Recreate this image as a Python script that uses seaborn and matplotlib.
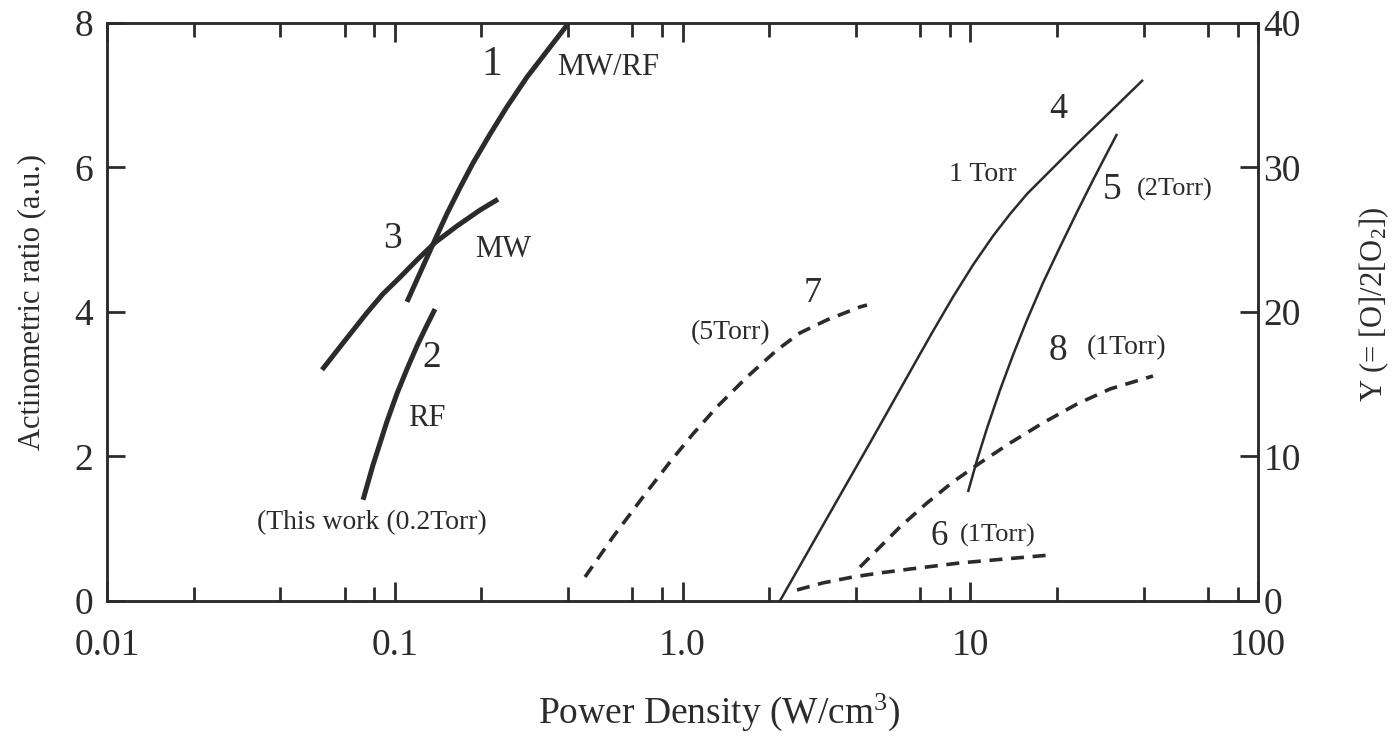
import numpy as np
import pandas as pd
import matplotlib
matplotlib.use("Agg")
import matplotlib.pyplot as plt
import seaborn as sns
from matplotlib.ticker import FixedLocator, NullFormatter

# ---------------- data ----------------
# left axis: Actinometric ratio (a.u.)
c1_x = [0.1103, 0.1224, 0.1380, 0.1519, 0.1686, 0.1870, 0.2143, 0.2455, 0.288, 0.338, 0.397]
c1_y = [4.14, 4.54, 5.00, 5.36, 5.72, 6.06, 6.46, 6.84, 7.25, 7.61, 7.97]
c2_x = [0.0776, 0.0840, 0.0939, 0.1018, 0.1103, 0.1195, 0.1284, 0.1380]
c2_y = [1.40, 1.88, 2.48, 2.87, 3.21, 3.53, 3.79, 4.04]
c3_x = [0.0559, 0.0661, 0.0801, 0.0910, 0.1043, 0.1195, 0.1380, 0.1646, 0.1978, 0.2285]
c3_y = [3.20, 3.57, 3.99, 4.25, 4.48, 4.72, 4.96, 5.19, 5.41, 5.56]
# right axis: Y (= [O]/2[O2])
c4_x = [2.18, 3.18, 4.48, 6.28, 7.43, 8.71, 10.22, 12.00, 13.75, 15.75, 18.93, 23.50, 30.60, 39.84]
c4_y = [0.0, 5.74, 10.93, 16.12, 18.69, 21.04, 23.25, 25.26, 26.78, 28.17, 29.76, 31.63, 33.84, 36.06]
c5_x = [9.82, 10.56, 11.44, 12.69, 14.08, 15.75, 17.89, 20.51, 23.50, 26.71, 29.88, 32.36]
c5_y = [7.54, 9.76, 11.97, 14.60, 17.02, 19.45, 22.01, 24.50, 26.92, 29.13, 31.00, 32.32]
c6_x = [2.500, 3.077, 3.914, 4.859, 6.175, 9.213, 18.93]
c6_y = [0.76, 1.25, 1.66, 1.94, 2.21, 2.63, 3.18]
c7_x = [0.4584, 0.5735, 0.7290, 0.9049, 1.0876, 1.318, 1.676, 2.130, 2.561, 3.178, 4.140, 4.377]
c7_y = [1.66, 4.43, 7.20, 9.62, 11.56, 13.43, 15.50, 17.37, 18.55, 19.45, 20.35, 20.48]
c8_x = [4.140, 4.742, 5.700, 7.074, 8.710, 10.81, 13.75, 17.89, 23.50, 30.60, 43.16]
c8_y = [2.35, 3.53, 5.12, 6.78, 8.24, 9.55, 10.93, 12.32, 13.63, 14.67, 15.57]

x_ticks = [0.01, 0.1, 1.0, 10, 100]
x_tick_labels = ["0.01", "0.1", "1.0", "10", "100"]
left_ticks = [0, 2, 4, 6, 8]
right_ticks = [0, 10, 20, 30, 40]

# ---------------- style ----------------
sns.set_style("ticks")
plt.rcParams["font.family"] = ["Liberation Serif", "DejaVu Serif"]
plt.rcParams["mathtext.fontset"] = "custom"
plt.rcParams["mathtext.rm"] = "Liberation Serif"
plt.rcParams["mathtext.it"] = "Liberation Serif:italic"

INK = "#2b2b2b"

fig = plt.figure(figsize=(13.93, 7.41), dpi=100)
ax = fig.add_axes([0.0768, 0.189, 0.8263, 0.780])
ax2 = ax.twinx()

def draw(a, xs, ys, lw, dashed=False):
    df = pd.DataFrame({"x": xs, "y": ys})
    kw = dict(color=INK, linewidth=lw, solid_capstyle="butt", solid_joinstyle="round")
    if dashed:
        kw["linestyle"] = (0, (3.6, 2.4))
        kw["dash_capstyle"] = "butt"
    sns.lineplot(data=df, x="x", y="y", ax=a, estimator=None, sort=True, **kw)

draw(ax, c1_x, c1_y, 3.6)
draw(ax, c2_x, c2_y, 3.6)
draw(ax, c3_x, c3_y, 3.6)
draw(ax2, c4_x, c4_y, 1.8)
draw(ax2, c5_x, c5_y, 1.8)
draw(ax2, c6_x, c6_y, 2.6, dashed=True)
draw(ax2, c7_x, c7_y, 2.6, dashed=True)
draw(ax2, c8_x, c8_y, 2.6, dashed=True)

for a in (ax, ax2):
    a.set_xscale("log")
    a.set_xlim(0.01, 100)
    a.set_xlabel("")
    a.set_ylabel("")
    for s in a.spines.values():
        s.set_linewidth(1.8)
        s.set_color(INK)
ax.set_ylim(0, 8)
ax2.set_ylim(0, 40)

ax.xaxis.set_major_locator(FixedLocator(x_ticks))
ax.set_xticklabels(x_tick_labels)
minor = [d * m for d in [0.01, 0.1, 1, 10] for m in (2, 4, 6.7, 8.5)]
ax.xaxis.set_minor_locator(FixedLocator(minor))
ax.xaxis.set_minor_formatter(NullFormatter())
ax.set_yticks(left_ticks)
ax2.set_yticks(right_ticks)

ax.tick_params(axis="x", which="major", direction="in", length=14, width=2,
               top=True, bottom=True, labelsize=27, pad=20, colors=INK)
ax.tick_params(axis="x", which="minor", direction="in", length=10, width=2,
               top=True, bottom=True, colors=INK)
ax.tick_params(axis="y", which="major", direction="in", length=13, width=2,
               left=True, right=False, labelsize=27, pad=10, colors=INK)
ax2.tick_params(axis="y", which="major", direction="in", length=13, width=2,
                right=True, labelsize=27, pad=4, colors=INK)
ax2.tick_params(axis="x", which="both", bottom=False, top=False)

fig.text(719 / 1393, 1 - 712 / 741, "Power Density (W/cm$^3$)", fontsize=27,
         color=INK, ha="center", va="center")
fig.text(32 / 1393, 1 - 302 / 741, "Actinometric ratio (a.u.)", fontsize=22,
         color=INK, ha="center", va="center", rotation=90)
fig.text(1374 / 1393, 1 - 304 / 741, "Y (= [O]/2[O$_2$])", fontsize=22,
         color=INK, ha="center", va="center", rotation=90)

# ---------------- annotations ----------------
def lab(x, y, s, size, ha="center"):
    ax.text(x, y, s, fontsize=size, ha=ha, va="center", color=INK)

lab(0.218, 7.42, "1", 30)
lab(0.366, 7.39, "MW/RF", 22, ha="left")
lab(0.0986, 5.02, "3", 27)
lab(0.190, 4.86, "MW", 22, ha="left")
lab(0.1347, 3.36, "2", 27)
lab(0.1294, 2.53, "RF", 22)
lab(0.0833, 1.09, "(This work (0.2Torr)", 20)
lab(2.84, 4.26, "7", 26)
lab(1.474, 3.71, "(5Torr)", 20)
lab(20.2, 6.80, "4", 26)
lab(11.07, 5.90, "1 Torr", 20)
lab(31.1, 5.69, "5", 27)
lab(51.5, 5.69, "(2Torr)", 19)
lab(20.2, 3.47, "8", 27)
lab(35.0, 3.50, "(1Torr)", 20)
lab(7.79, 0.886, "6", 25)
lab(12.49, 0.91, "(1Torr)", 19)

fig.savefig("out.png", dpi=100, facecolor="white")
